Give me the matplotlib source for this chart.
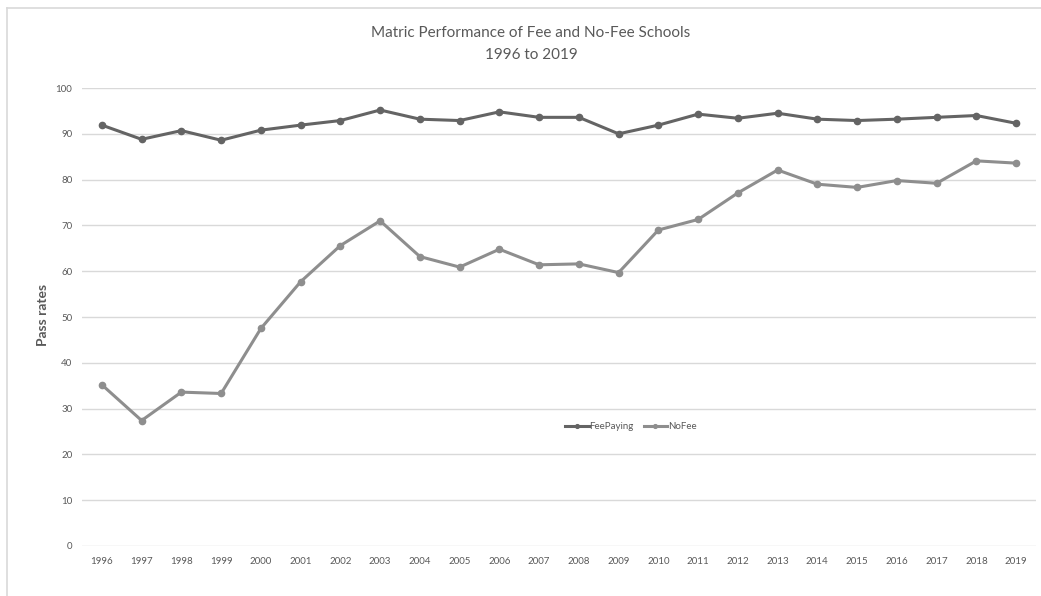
import matplotlib.pyplot as plt
from matplotlib.lines import Line2D

years = list(range(1996, 2020))
fee_paying = [91.9, 88.8, 90.7, 88.6, 90.8, 91.9, 92.9, 95.2, 93.2, 92.9, 94.8, 93.6,
              93.6, 90.0, 91.9, 94.3, 93.4, 94.5, 93.2, 92.9, 93.2, 93.6, 94.0, 92.3]
no_fee = [35.2, 27.4, 33.6, 33.3, 47.5, 57.7, 65.6, 71.0, 63.2, 60.9, 64.8, 61.4,
          61.6, 59.7, 69.0, 71.3, 77.1, 82.1, 79.0, 78.3, 79.8, 79.2, 84.1, 83.6]
yticks = list(range(0, 101, 10))

plt.rcParams['font.family'] = ['Lato', 'DejaVu Sans']

fig = plt.figure(figsize=(10.41, 5.96), dpi=100)
ax = fig.add_axes([82 / 1041, 0.0839, 954 / 1041, 0.7684])

ax.plot(years, fee_paying, color='#646464', lw=2.2, marker='o', ms=4.5,
        label='FeePaying', zorder=3)
ax.plot(years, no_fee, color='#8e8e8e', lw=2.2, marker='o', ms=4.5,
        label='NoFee', zorder=3)

ax.set_xlim(1995.5, 2019.5)
ax.set_ylim(0, 100)
ax.set_yticks(yticks)
ax.set_xticks(years)
ax.grid(axis='y', color='#d9d9d9', lw=1)
ax.set_axisbelow(True)
for s in ax.spines.values():
    s.set_visible(False)
ax.tick_params(axis='both', length=0, labelsize=7, colors='#595959')
ax.tick_params(axis='y', pad=7)
ax.tick_params(axis='x', pad=8)

ax.set_ylabel('Pass rates', fontsize=10, fontweight='bold', color='#595959')
ax.yaxis.set_label_coords(-0.0345, 0.505)

fig.text(0.51, 0.945, 'Matric Performance of Fee and No-Fee Schools',
         ha='center', va='center', fontsize=11, color='#595959')
fig.text(0.51, 0.908, '1996 to 2019', ha='center', va='center',
         fontsize=11, color='#595959')

ax.legend(loc='center', bbox_to_anchor=(0.606, 0.284), ncol=2, frameon=False,
          fontsize=7, labelcolor='#595959', handlelength=2.4, handletextpad=0.1,
          columnspacing=1.0, markerscale=0.6,
          bbox_transform=fig.transFigure)

fig.add_artist(Line2D([6.5 / 1041, 1], [1 - 8 / 596, 1 - 8 / 596],
                      color='#d9d9d9', lw=1.2, transform=fig.transFigure))
fig.add_artist(Line2D([6.5 / 1041, 6.5 / 1041], [0, 1 - 8 / 596],
                      color='#d9d9d9', lw=1.2, transform=fig.transFigure))

fig.savefig('out.png', dpi=100)
